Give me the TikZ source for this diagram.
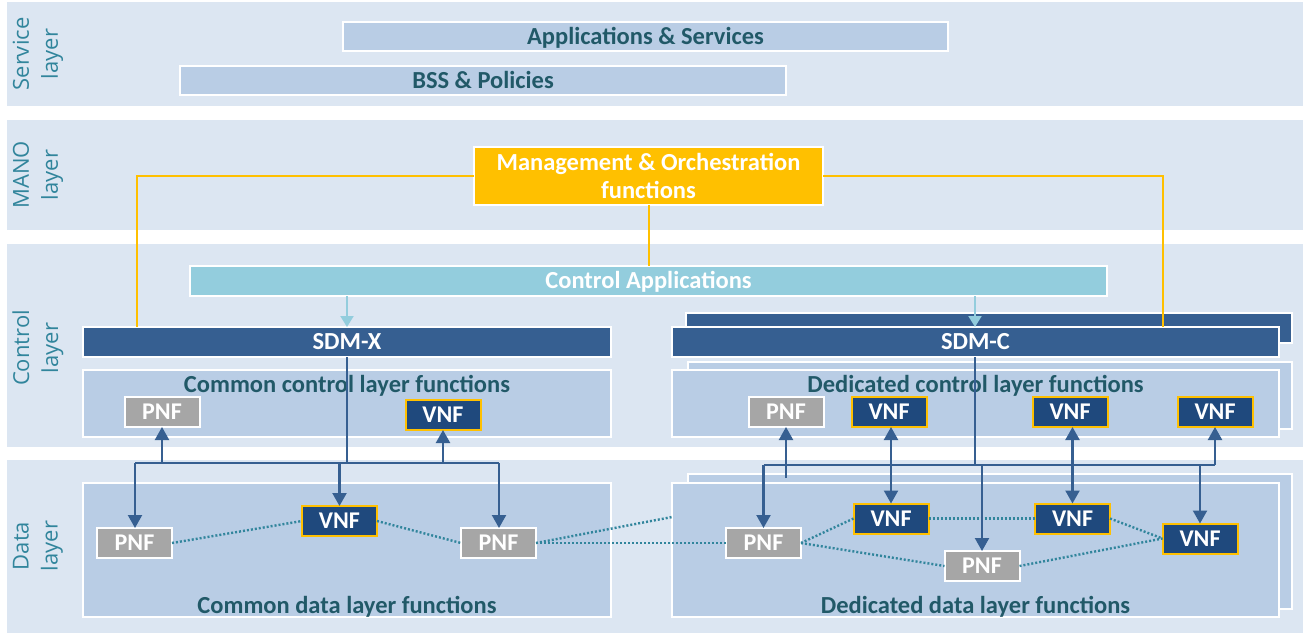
\documentclass[tikz,border=0pt]{standalone}
\usepackage{fontspec}
\setmainfont{Carlito}
\newfontfamily\layerfont{Open Sans}
\usetikzlibrary{arrows.meta,calc}
\definecolor{bandc}{HTML}{DCE6F2}
\definecolor{boxc}{HTML}{B9CDE5}
\definecolor{sdmc}{HTML}{365F91}
\definecolor{vnfc}{HTML}{1F497D}
\definecolor{pnfc}{HTML}{A6A6A6}
\definecolor{orangec}{HTML}{FFC000}
\definecolor{ctrlc}{HTML}{93CDDD}
\definecolor{tealc}{HTML}{215968}
\definecolor{layerc}{HTML}{31859C}
\definecolor{dotc}{HTML}{31859C}
\begin{document}
\begin{tikzpicture}[x=1pt,y=-1pt,
  every node/.style={inner sep=0pt,outer sep=0pt},
  capc/.style={text height=15.8pt,text depth=0pt},
  band/.style={fill=bandc,draw=none},
  lbox/.style={fill=boxc,draw=white,line width=2pt},
  sdm/.style={fill=sdmc,draw=white,line width=2pt,text=white,capc,font=\fontsize{24.5}{29}\selectfont\bfseries},
  txt/.style={text=tealc,capc,font=\fontsize{24.5}{29}\selectfont\bfseries},
  pnf/.style={fill=pnfc,draw=white,line width=2pt,minimum width=75pt,minimum height=30pt,text=white,capc,font=\fontsize{24}{29}\selectfont\bfseries},
  vnf/.style={fill=vnfc,draw=orangec,line width=2pt,minimum width=75pt,minimum height=30pt,text=white,capc,font=\fontsize{24}{29}\selectfont\bfseries},
  layerlbl/.style={rotate=90,align=center,text=layerc,font=\layerfont\fontsize{22}{29}\selectfont},
  barrow/.style={draw=sdmc,line width=2.2pt,-{Triangle[length=13pt,width=14pt]}},
  bline/.style={draw=sdmc,line width=2.2pt},
  darrow/.style={draw=sdmc,line width=2.2pt,{Triangle[length=13pt,width=14pt]}-{Triangle[length=13pt,width=14pt]}},
  carrow/.style={draw=ctrlc,line width=2pt,-{Triangle[length=11pt,width=13pt]}},
  oline/.style={draw=orangec,line width=2pt},
  dotl/.style={draw=dotc,line width=2.4pt,dash pattern=on 2pt off 2pt}
]
\useasboundingbox (0,0) rectangle (1303,632);
\fill[white] (0,0) rectangle (1303,632);

% bands
\node[band,minimum width=1296pt,minimum height=104pt] (sband) at (655,54) {};
\node[band,minimum width=1296pt,minimum height=110pt] (mband) at (655,175) {};
\node[band,minimum width=1296pt,minimum height=203pt] (cband) at (655,345.5) {};
\node[band,minimum width=1296pt,minimum height=173pt] (dband) at (655,546.5) {};

% layer labels
\node[layerlbl] (lserv) at (38,54) {Service\\layer};
\node[layerlbl] (lmano) at (38,175) {MANO\\layer};
\node[layerlbl] (lctrl) at (38,348) {Control\\layer};
\node[layerlbl] (ldata) at (38,546) {Data\\layer};

% service layer
\node[lbox,minimum width=605pt,minimum height=29pt,txt] (apps) at (645.5,36.5) {Applications \& Services};
\node[lbox,minimum width=606pt,minimum height=29pt,txt] (bss) at (483,80.5) {BSS \& Policies};

% MANO
\node[fill=orangec,draw=white,line width=2pt,minimum width=349pt,minimum height=58pt,align=center,text=white,font=\fontsize{24.5}{28}\selectfont\bfseries] (mano) at (648.5,176) {Management \& Orchestration\\functions};

% control layer
\node[fill=ctrlc,draw=white,line width=2pt,minimum width=917pt,minimum height=30pt,text=white,capc,font=\fontsize{24.5}{29}\selectfont\bfseries] (capp) at (648.5,281) {Control Applications};
\node[sdm,minimum width=528pt,minimum height=30pt] (sdmx) at (347,342) {SDM-X};
\node[sdm,minimum width=606pt,minimum height=30pt] (sdmcb) at (989,328) {};
\node[sdm,minimum width=607pt,minimum height=30pt] (sdmcf) at (975.5,342) {SDM-C};

\node[lbox,minimum width=528pt,minimum height=67pt] (ccl) at (347,403.5) {};
\node[lbox,minimum width=604pt,minimum height=67pt] (dclb) at (990,395.5) {};
\node[lbox,minimum width=607pt,minimum height=67pt] (dcl) at (975.5,403.5) {};
\node[txt] (ccltxt) at (347,385) {Common control layer functions};
\node[txt] (dcltxt) at (975.5,385) {Dedicated control layer functions};

% data layer
\node[lbox,minimum width=528pt,minimum height=134pt] (cdl) at (347,550) {};
\node[lbox,minimum width=604pt,minimum height=135pt] (ddlb) at (990,541.5) {};
\node[lbox,minimum width=607pt,minimum height=134pt] (ddl) at (975.5,550) {};
\node[txt] (cdltxt) at (347,606) {Common data layer functions};
\node[txt] (ddltxt) at (975.5,606) {Dedicated data layer functions};

% control-layer NFs
\node[pnf] (cpc) at (162,412) {PNF};
\node[vnf] (cvc) at (443,415) {VNF};
\node[pnf] (dpc) at (786,412) {PNF};
\node[vnf] (dvc1) at (889,412) {VNF};
\node[vnf] (dvc2) at (1070,412) {VNF};
\node[vnf] (dvc3) at (1215,412) {VNF};

% data-layer NFs
\node[pnf] (cpd1) at (134.5,543) {PNF};
\node[vnf] (cvd) at (339.5,521) {VNF};
\node[pnf] (cpd2) at (498.5,543) {PNF};
\node[pnf] (dpd1) at (763.5,543) {PNF};
\node[vnf] (dvd1) at (891,518.5) {VNF};
\node[vnf] (dvd2) at (1072.5,518.5) {VNF};
\node[vnf] (dvd3) at (1200,538.5) {VNF};
\node[pnf] (dpd2) at (982,566) {PNF};

% dotted data links
\coordinate (edge) at (672,517);
\draw[dotl] (cpd1.east) -- (cvd.west);
\draw[dotl] (cvd.east) -- (cpd2.west);
\draw[dotl] (cpd2.east) -- (dpd1.west);
\draw[dotl] (cpd2.east) -- (edge);
\draw[dotl] (dpd1.east) -- (dvd1.west);
\draw[dotl] (dpd1.east) -- (dpd2.west);
\draw[dotl] (dvd1.east) -- (dvd2.west);
\draw[dotl] (dvd2.east) -- (dvd3.west);
\draw[dotl] (dpd2.east) -- (dvd3.west);

% control applications arrows
\draw[carrow] (capp.south -| sdmx.north) -- (sdmx.north);
\draw[carrow] (capp.south -| 975,0) -- (975,327);

% orange MANO links
\coordinate (oleft) at (137,327);
\coordinate (oright) at (1163,327);
\draw[oline] (mano.west) -| (oleft);
\draw[oline] (mano.east) -| (oright);
\draw[oline] (mano.south) -- (mano.south |- capp.north);

% SDM-X distribution
\coordinate (cbus) at (0,463);
\coordinate (cbusL) at (135,463);
\coordinate (cbusR) at (499,463);
\draw[bline] (sdmx.south) -- (sdmx.south |- cbus);
\draw[bline] (cbusL) -- (cbusR);
\draw[barrow] (cpc.south |- cbus) -- (cpc.south);
\draw[barrow] (cvc.south |- cbus) -- (cvc.south);
\draw[barrow] (cbusL) -- (cpd1.north -| cbusL);
\draw[barrow] (cvd.north |- cbus) -- (cvd.north);
\draw[barrow] (cbusR) -- (cpd2.north -| cbusR);

% SDM-C distribution
\coordinate (dbus) at (0,465);
\coordinate (dbusL) at (763.5,465);
\coordinate (dbusR) at (1215,465);
\coordinate (dtop) at (975,357);
\coordinate (pup) at (786,478);
\draw[bline] (dtop) -- (dtop |- dbus);
\draw[bline] (dbusL) -- (dbusR);
\draw[barrow] (pup) -- (dpc.south);
\draw[darrow] (dvd1.north) -- (dvd1.north |- dvc1.south);
\draw[darrow] (dvd2.north) -- (dvd2.north |- dvc2.south);
\draw[barrow] (dbusL) -- (dpd1.north);
\draw[barrow] (dpd2.north |- dbus) -- (dpd2.north);
\draw[barrow] (dvd3.north |- dbus) -- (dvd3.north);
\draw[barrow] (dbusR) -- (dvc3.south);
\end{tikzpicture}
\end{document}
